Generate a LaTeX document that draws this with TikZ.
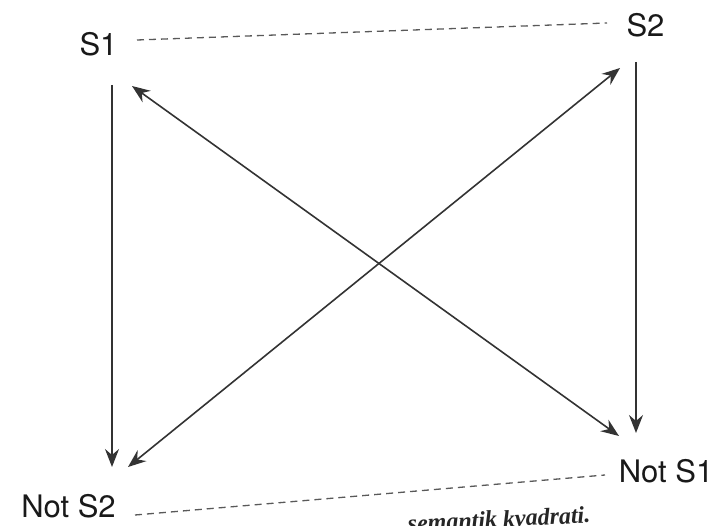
\documentclass[tikz,border=0pt]{standalone}
\usepackage{fontspec}
\setmainfont{TeX Gyre Heros}
\newfontfamily\capfont{Liberation Serif}
\usetikzlibrary{arrows.meta}
\tikzset{
  lbl/.style={inner sep=0pt, text=black!90, font=\fontsize{31}{36}\selectfont},
  arr/.style={-{Stealth[length=18pt,width=14pt,inset=6pt]}, line width=1.6pt, draw=black!80},
  darr/.style={{Stealth[length=18pt,width=14pt,inset=6pt]}-{Stealth[length=18pt,width=14pt,inset=6pt]}, line width=1.6pt, draw=black!80},
  opp/.style={dash pattern=on 7pt off 5pt, line width=1.3pt, draw=black!65},
}
\begin{document}
\begin{tikzpicture}[x=1pt,y=-1pt]
  \useasboundingbox (0,0) rectangle (717,526);
  \clip (0,0) rectangle (717,526);
  % corner labels
  \node[lbl] (s1)  at (98.5,44.5)  {S1};
  \node[lbl] (s2)  at (645.5,25)   {S2};
  \node[lbl] (ns2) at (68.5,506.5) {Not S2};
  \node[lbl] (ns1) at (666,471.5)  {Not S1};
  % connector ends
  \coordinate (s1d)  at (112,85);
  \coordinate (ns2u) at (112,467);
  \coordinate (s2d)  at (636,62);
  \coordinate (ns1u) at (636,433);
  \coordinate (s1x)  at (132,86);
  \coordinate (ns1x) at (619,436);
  \coordinate (s2x)  at (620,68);
  \coordinate (ns2x) at (128,467);
  \coordinate (s1r)  at (137,40);
  \coordinate (s2l)  at (607,23);
  \coordinate (ns2r) at (135,515);
  \coordinate (ns1l) at (605,475);
  % dashed top and bottom
  \draw[opp] (s1r) -- (s2l);
  \draw[opp] (ns2r) -- (ns1l);
  % verticals
  \draw[arr] (s1d) -- (ns2u);
  \draw[arr] (s2d) -- (ns1u);
  % diagonals
  \draw[darr] (s1x) -- (ns1x);
  \draw[darr] (s2x) -- (ns2x);
  % cut caption
  \node[anchor=base west, inner sep=0pt, rotate=3, text=black!85,
        font=\capfont\fontsize{24}{28}\selectfont\bfseries\itshape] (cap) at (408,532) {semantik kvadrati.};
\end{tikzpicture}
\end{document}
